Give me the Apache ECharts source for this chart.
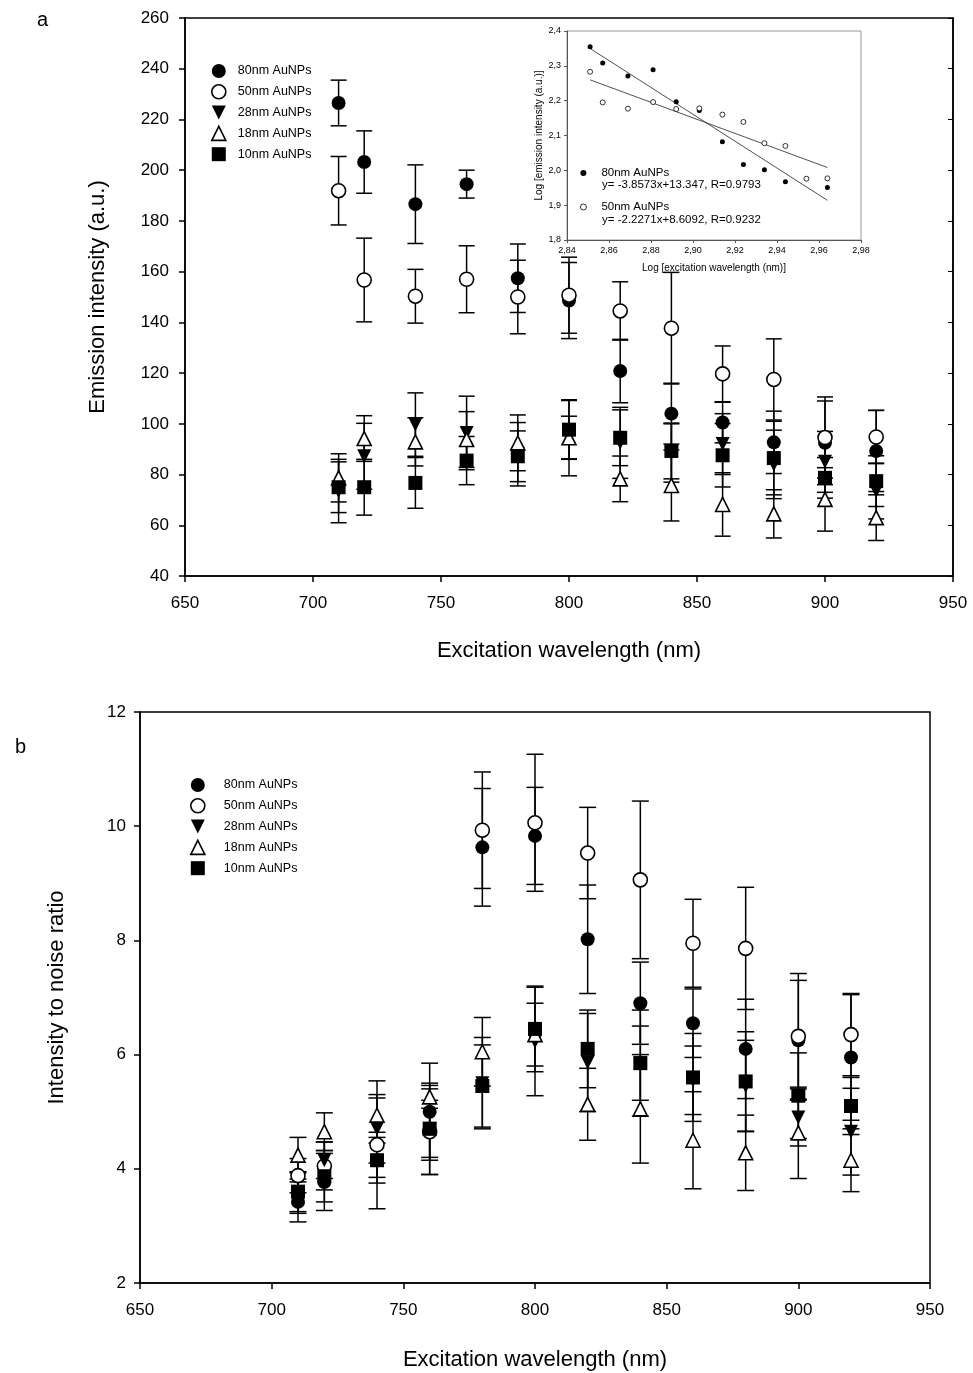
<!DOCTYPE html>
<html>
<head>
<meta charset="utf-8">
<script src="https://cdn.jsdelivr.net/npm/echarts@6/dist/echarts.min.js"></script>
<style>
  html, body { margin: 0; padding: 0; background: #fff; }
  #chart { width: 973px; height: 1373px; }
</style>
</head>
<body>
<div id="chart"></div>
<script>
// Excitation wavelengths (nm)
const wavelengths = [710, 720, 740, 760, 780, 800, 820, 840, 860, 880, 900, 920];
const seriesNames = ['80nm AuNPs', '50nm AuNPs', '28nm AuNPs', '18nm AuNPs', '10nm AuNPs'];

// Panel a: emission intensity (a.u.) and standard deviations
const emission80 = [226.5, 203.2, 186.6, 194.5, 157.4, 148.6, 120.8, 104.0, 100.5, 92.7, 92.5, 89.3];
const emission80Err = [9, 12.3, 15.5, 5.5, 13.5, 15, 12.5, 12, 8, 12.3, 16.5, 16];
const emission50 = [191.9, 156.7, 150.3, 157.0, 150.0, 150.7, 144.5, 137.7, 119.7, 117.5, 94.6, 94.8];
const emission50Err = [13.5, 16.5, 10.6, 13.2, 14.5, 15, 11.5, 22, 11, 16, 16, 10.5];
const emission28 = [73.5, 87.2, 99.7, 96.4, 88, 94.5, 92.5, 88.5, 92, 84, 85, 73.5];
const emission28Err = [12.5, 13, 12.5, 14.5, 12.5, 15, 14, 11.5, 12, 13.5, 12, 11];
const emission18 = [78.7, 94.2, 92.9, 93.8, 92.5, 94.5, 78.3, 75.7, 68.2, 64.5, 70.2, 63];
const emission18Err = [9.5, 9, 9.5, 11, 11, 8.5, 9, 14, 12.5, 9.5, 12.5, 9];
const emission10 = [75, 75, 76.7, 85.5, 87.2, 97.7, 94.5, 89.3, 87.6, 86.5, 78.7, 77.4];
const emission10Err = [10, 11, 10, 9.5, 10, 11.5, 11, 11, 12.5, 14.5, 8, 10];

// Panel b: intensity to noise ratio and standard deviations
const ratio80 = [3.42, 3.77, 4.15, 5.0, 9.63, 9.83, 8.02, 6.9, 6.55, 6.1, 6.25, 5.95];
const ratio80Err = [0.35, 0.5, 0.3, 0.85, 1.03, 0.85, 0.95, 0.72, 0.6, 0.87, 1.05, 1.1];
const ratio50 = [3.88, 4.05, 4.42, 4.65, 9.93, 10.06, 9.53, 9.06, 7.95, 7.86, 6.32, 6.35];
const ratio50Err = [0.3, 0.42, 1.12, 0.75, 1.02, 1.2, 0.8, 1.38, 0.77, 1.07, 1.1, 0.72];
const ratio28 = [3.52, 4.15, 4.7, 4.7, 5.5, 6.23, 5.86, 5.85, 5.55, 5.45, 4.9, 4.65];
const ratio28Err = [0.3, 0.32, 0.6, 0.5, 0.8, 0.95, 0.86, 0.93, 0.6, 0.8, 0.5, 0.76];
const ratio18 = [4.24, 4.65, 4.94, 5.26, 6.05, 6.35, 5.13, 5.05, 4.5, 4.28, 4.63, 4.15];
const ratio18Err = [0.31, 0.33, 0.3, 0.2, 0.6, 0.55, 0.63, 0.95, 0.85, 0.66, 0.8, 0.55];
const ratio10 = [3.6, 3.87, 4.15, 4.7, 5.45, 6.45, 6.1, 5.85, 5.6, 5.53, 5.28, 5.1];
const ratio10Err = [0.35, 0.45, 0.4, 0.8, 0.72, 0.75, 0.68, 0.65, 0.77, 0.87, 0.75, 0.5];

// Inset: log-log plot with linear fits
const insetLogWavelength = [2.851, 2.857, 2.869, 2.881, 2.892, 2.903, 2.914, 2.924, 2.934, 2.944, 2.954, 2.964];
const insetLog80 = [2.355, 2.308, 2.271, 2.289, 2.197, 2.172, 2.082, 2.017, 2.002, 1.967, null, 1.951];
const insetLog50 = [2.283, 2.195, 2.177, 2.196, 2.176, 2.178, 2.160, 2.139, 2.078, 2.070, 1.976, 1.977];
const fit80 = { slope: -3.8573, intercept: 13.347, r: 0.9793 };
const fit50 = { slope: -2.2271, intercept: 8.6092, r: 0.9232 };

// Axis ticks
const xTicks = { min: 650, max: 950, interval: 50 };
const yTicksA = { min: 40, max: 260, interval: 20 };
const yTicksB = { min: 2, max: 12, interval: 2 };
const insetXTicks = { min: 2.84, max: 2.98, interval: 0.02 };
const insetYTicks = { min: 1.8, max: 2.4, interval: 0.1 };

const FONT = '"Liberation Sans", Arial, sans-serif';
const DOWN_TRIANGLE = 'path://M0,0 L10,0 L5,10 Z';

const markerStyles = [
  { symbol: 'circle', rotate: 0, itemStyle: { color: '#000', opacity: 1 } },
  { symbol: 'circle', rotate: 0, itemStyle: { color: '#fff', borderColor: '#000', borderWidth: 1.6, opacity: 1 } },
  { symbol: 'triangle', rotate: 180, itemStyle: { color: '#000', opacity: 1 } },
  { symbol: 'triangle', rotate: 0, itemStyle: { color: '#fff', borderColor: '#000', borderWidth: 1.6, opacity: 1 } },
  { symbol: 'rect', rotate: 0, itemStyle: { color: '#000', opacity: 1 } }
];

// Legend entries: the 28nm icon is drawn as a downward triangle
const legendItems = seriesNames.map((name, i) => {
  const st = markerStyles[i];
  return {
    name,
    icon: i === 2 ? DOWN_TRIANGLE : st.symbol,
    itemStyle: Object.assign({ borderWidth: 0, borderColor: '#000' }, st.itemStyle)
  };
});

function errorBarRenderer(capWidth) {
  return function (params, api) {
    const x = api.value(0), y = api.value(1), e = api.value(2);
    const hi = api.coord([x, y + e]);
    const lo = api.coord([x, y - e]);
    const hw = capWidth / 2;
    const style = { stroke: '#000', lineWidth: 1.5 };
    return {
      type: 'group',
      children: [
        { type: 'line', shape: { x1: hi[0], y1: hi[1], x2: lo[0], y2: lo[1] }, style },
        { type: 'line', shape: { x1: hi[0] - hw, y1: hi[1], x2: hi[0] + hw, y2: hi[1] }, style },
        { type: 'line', shape: { x1: lo[0] - hw, y1: lo[1], x2: lo[0] + hw, y2: lo[1] }, style }
      ]
    };
  };
}

function panelSeries(xIdx, yIdx, values, errors, symbolSize, capWidth) {
  const out = [];
  values.forEach((vals, i) => {
    const errData = wavelengths.map((w, k) => [w, vals[k], errors[i][k]]);
    const ptData = wavelengths.map((w, k) => [w, vals[k]]);
    out.push({
      type: 'custom',
      name: seriesNames[i] + ' SD',
      xAxisIndex: xIdx, yAxisIndex: yIdx,
      renderItem: errorBarRenderer(capWidth),
      data: errData,
      encode: { x: 0, y: 1 },
      silent: true
    });
    out.push({
      type: 'scatter',
      name: seriesNames[i],
      xAxisIndex: xIdx, yAxisIndex: yIdx,
      symbol: markerStyles[i].symbol,
      symbolRotate: markerStyles[i].rotate,
      symbolSize: symbolSize,
      itemStyle: markerStyles[i].itemStyle,
      data: ptData
    });
  });
  return out;
}

const mainAxisLine = { show: true, onZero: false, lineStyle: { color: '#000', width: 1.5 } };
const mainTick = { show: true, inside: false, length: 6, lineStyle: { color: '#000', width: 1.5 } };
const mainLabel = { color: '#000', fontFamily: FONT, fontSize: 17 };
const mainName = { color: '#000', fontFamily: FONT, fontSize: 22 };

function fitLine(fit) {
  const x0 = insetLogWavelength[0];
  const x1 = insetLogWavelength[insetLogWavelength.length - 1];
  return [[x0, fit.slope * x0 + fit.intercept], [x1, fit.slope * x1 + fit.intercept]];
}

const option = {
  backgroundColor: '#fff',
  animation: false,
  textStyle: { fontFamily: FONT },
  grid: [
    { left: 185, top: 18, width: 768, height: 558, show: true, borderColor: '#000', borderWidth: 1.5, backgroundColor: '#fff' },
    { left: 140, top: 712, width: 790, height: 571, show: true, borderColor: '#000', borderWidth: 1.5, backgroundColor: '#fff' },
    { left: 567, top: 31, width: 294, height: 209, show: true, borderColor: '#999', borderWidth: 1, backgroundColor: '#fff', z: 3 }
  ],
  xAxis: [
    {
      gridIndex: 0, type: 'value', min: xTicks.min, max: xTicks.max, interval: xTicks.interval,
      name: 'Excitation wavelength (nm)', nameLocation: 'middle', nameGap: 64, nameTextStyle: mainName,
      axisLine: mainAxisLine, axisTick: mainTick, axisLabel: Object.assign({ margin: 19 }, mainLabel),
      splitLine: { show: false }
    },
    {
      gridIndex: 1, type: 'value', min: xTicks.min, max: xTicks.max, interval: xTicks.interval,
      name: 'Excitation wavelength (nm)', nameLocation: 'middle', nameGap: 66, nameTextStyle: mainName,
      axisLine: mainAxisLine, axisTick: mainTick, axisLabel: Object.assign({ margin: 19 }, mainLabel),
      splitLine: { show: false }
    },
    {
      gridIndex: 2, type: 'value', min: insetXTicks.min, max: insetXTicks.max, interval: insetXTicks.interval,
      name: 'Log [excitation wavelength (nm)]', nameLocation: 'middle', nameGap: 23,
      nameTextStyle: { color: '#000', fontFamily: FONT, fontSize: 10 },
      axisLine: { show: true, onZero: false, lineStyle: { color: '#555', width: 1 } },
      axisTick: { show: true, length: 3, lineStyle: { color: '#555', width: 1 } },
      axisLabel: { color: '#000', fontFamily: FONT, fontSize: 9, margin: 6,
        formatter: v => v.toFixed(2).replace('.', ',') },
      splitLine: { show: false }, z: 3
    }
  ],
  yAxis: [
    {
      gridIndex: 0, type: 'value', min: yTicksA.min, max: yTicksA.max, interval: yTicksA.interval,
      name: 'Emission intensity (a.u.)', nameLocation: 'middle', nameGap: 76, nameTextStyle: mainName,
      axisLine: mainAxisLine, axisTick: mainTick, axisLabel: Object.assign({ margin: 16 }, mainLabel),
      splitLine: { show: false }
    },
    {
      gridIndex: 1, type: 'value', min: yTicksB.min, max: yTicksB.max, interval: yTicksB.interval,
      name: 'Intensity to noise ratio', nameLocation: 'middle', nameGap: 72, nameTextStyle: mainName,
      axisLine: mainAxisLine, axisTick: mainTick, axisLabel: Object.assign({ margin: 14 }, mainLabel),
      splitLine: { show: false }
    },
    {
      gridIndex: 2, type: 'value', min: insetYTicks.min, max: insetYTicks.max, interval: insetYTicks.interval,
      name: 'Log [emission intensity (a.u.)]', nameLocation: 'middle', nameGap: 22,
      nameTextStyle: { color: '#000', fontFamily: FONT, fontSize: 10 },
      axisLine: { show: true, onZero: false, lineStyle: { color: '#555', width: 1 } },
      axisTick: { show: true, length: 3, lineStyle: { color: '#555', width: 1 } },
      axisLabel: { color: '#000', fontFamily: FONT, fontSize: 9, margin: 6,
        formatter: v => v.toFixed(1).replace('.', ',') },
      splitLine: { show: false }, z: 3
    },
    {
      gridIndex: 0, type: 'value', position: 'right', min: yTicksA.min, max: yTicksA.max, interval: yTicksA.interval,
      axisLine: mainAxisLine, axisTick: { show: true, inside: true, length: 5, lineStyle: { color: '#000' } },
      axisLabel: { show: false }, splitLine: { show: false }
    }
  ],
  legend: [
    {
      left: 206, top: 59, orient: 'vertical', itemWidth: 14, itemHeight: 14, itemGap: 6,
      data: legendItems, selectedMode: false,
      textStyle: { color: '#000', fontFamily: FONT, fontSize: 12.5, padding: [0, 0, 0, 7] }
    },
    {
      left: 185, top: 773, orient: 'vertical', itemWidth: 14, itemHeight: 14, itemGap: 6,
      data: legendItems, selectedMode: false,
      textStyle: { color: '#000', fontFamily: FONT, fontSize: 12.5, padding: [0, 0, 0, 14] }
    },
    {
      left: 575, top: 162, orient: 'vertical', itemWidth: 6, itemHeight: 6, itemGap: 22, z: 4,
      selectedMode: false,
      data: [
        { name: '80nm AuNPs', icon: 'circle', itemStyle: { color: '#000', borderWidth: 0, opacity: 1 } },
        { name: '50nm AuNPs', icon: 'circle', itemStyle: { color: '#fff', borderColor: '#000', borderWidth: 0.8, opacity: 1 } }
      ],
      textStyle: { color: '#000', fontFamily: FONT, fontSize: 11.5, padding: [0, 0, 0, 10] }
    }
  ],
  graphic: [
    { type: 'text', left: 37, top: 10, style: { text: 'a', fill: '#000', font: '20px ' + FONT } },
    { type: 'text', left: 15, top: 737, style: { text: 'b', fill: '#000', font: '20px ' + FONT } },
    { type: 'text', left: 602, top: 179, z: 10,
      style: { text: `y= ${fit80.slope}x+${fit80.intercept}, R=${fit80.r}`, fill: '#000', font: '11.5px ' + FONT } },
    { type: 'text', left: 602, top: 214, z: 10,
      style: { text: `y= ${fit50.slope}x+${fit50.intercept}, R=${fit50.r}`, fill: '#000', font: '11.5px ' + FONT } }
  ],
  series: [
    ...panelSeries(0, 0,
      [emission80, emission50, emission28, emission18, emission10],
      [emission80Err, emission50Err, emission28Err, emission18Err, emission10Err], 14, 16),
    ...panelSeries(1, 1,
      [ratio80, ratio50, ratio28, ratio18, ratio10],
      [ratio80Err, ratio50Err, ratio28Err, ratio18Err, ratio10Err], 14, 17),
    {
      type: 'line', name: '80nm fit', xAxisIndex: 2, yAxisIndex: 2, data: fitLine(fit80),
      symbol: 'none', lineStyle: { color: '#222', width: 0.8 }, z: 4, silent: true
    },
    {
      type: 'line', name: '50nm fit', xAxisIndex: 2, yAxisIndex: 2, data: fitLine(fit50),
      symbol: 'none', lineStyle: { color: '#222', width: 0.8 }, z: 4, silent: true
    },
    {
      type: 'scatter', name: '80nm AuNPs', xAxisIndex: 2, yAxisIndex: 2, symbol: 'circle', symbolSize: 5,
      itemStyle: { color: '#000', opacity: 1 }, z: 5,
      data: insetLogWavelength.map((x, k) => [x, insetLog80[k]]).filter(p => p[1] !== null)
    },
    {
      type: 'scatter', name: '50nm AuNPs', xAxisIndex: 2, yAxisIndex: 2, symbol: 'circle', symbolSize: 5,
      itemStyle: { color: '#fff', borderColor: '#000', borderWidth: 0.8, opacity: 1 }, z: 5,
      data: insetLogWavelength.map((x, k) => [x, insetLog50[k]])
    }
  ]
};

const chart = echarts.init(document.getElementById('chart'), null, { renderer: 'canvas' });
chart.setOption(option);
</script>
</body>
</html>
